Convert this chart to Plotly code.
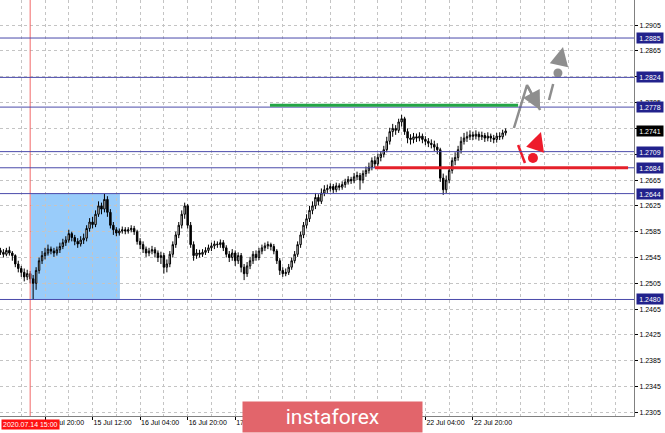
import plotly.graph_objects as go

# ---------------- data (H1 candles, index 0 = 14 Jul 05:00) ----------------
first_open = 1.2556
closes = [
    1.2553, 1.2550, 1.2556, 1.2552, 1.2548, 1.2535, 1.2528, 1.2522, 1.2515, 1.2520,
    1.2512, 1.2505, 1.2525, 1.2540, 1.2548, 1.2552, 1.2558, 1.2555, 1.2552, 1.2557,
    1.2562, 1.2568, 1.2572, 1.2582, 1.2576, 1.2570, 1.2566, 1.2572, 1.2575, 1.2590,
    1.2600, 1.2596, 1.2612, 1.2625, 1.2620, 1.2635, 1.2615, 1.2595, 1.2588, 1.2583,
    1.2586, 1.2588, 1.2586, 1.2588, 1.2590, 1.2585, 1.2570, 1.2565, 1.2558, 1.2552,
    1.2555, 1.2557, 1.2552, 1.2545, 1.2548, 1.2530, 1.2535, 1.2550, 1.2565, 1.2580,
    1.2595, 1.2612, 1.2625, 1.2595, 1.2565, 1.2548, 1.2552, 1.2550, 1.2553, 1.2556,
    1.2560, 1.2563, 1.2566, 1.2565, 1.2568, 1.2560, 1.2550, 1.2545, 1.2552, 1.2540,
    1.2548, 1.2530, 1.2520, 1.2532, 1.2540, 1.2550, 1.2545, 1.2555, 1.2560, 1.2563,
    1.2565, 1.2562, 1.2555, 1.2540, 1.2525, 1.2520, 1.2522, 1.2530, 1.2540, 1.2550,
    1.2565, 1.2580, 1.2595, 1.2605, 1.2618, 1.2625, 1.2638, 1.2632, 1.2645, 1.2650,
    1.2652, 1.2655, 1.2650, 1.2656, 1.2654, 1.2658, 1.2662, 1.2666, 1.2664, 1.2670,
    1.2672, 1.2665, 1.2675, 1.2680, 1.2685, 1.2695, 1.2690, 1.2700, 1.2705, 1.2712,
    1.2725, 1.2740, 1.2745, 1.2742, 1.2755, 1.2760, 1.2740, 1.2730, 1.2728, 1.2732,
    1.2730, 1.2733, 1.2728, 1.2725, 1.2722, 1.2720, 1.2716, 1.2712, 1.2668, 1.2650,
    1.2665, 1.2680, 1.2695, 1.2700, 1.2712, 1.2725, 1.2730, 1.2732, 1.2735, 1.2733,
    1.2736, 1.2732, 1.2734, 1.2730, 1.2733, 1.2730, 1.2728, 1.2733, 1.2732, 1.2738, 1.2741,
]
highs = [
    1.2560, 1.2558, 1.2560, 1.2562, 1.2555, 1.2550, 1.2540, 1.2532, 1.2528, 1.2526,
    1.2524, 1.2518, 1.2530, 1.2545, 1.2555, 1.2560, 1.2565, 1.2562, 1.2560, 1.2562,
    1.2568, 1.2574, 1.2578, 1.2588, 1.2585, 1.2580, 1.2575, 1.2578, 1.2582, 1.2595,
    1.2606, 1.2608, 1.2618, 1.2632, 1.2630, 1.2644, 1.2640, 1.2620, 1.2600, 1.2592,
    1.2590, 1.2593, 1.2592, 1.2592, 1.2595, 1.2594, 1.2588, 1.2575, 1.2570, 1.2562,
    1.2560, 1.2563, 1.2561, 1.2556, 1.2554, 1.2552, 1.2542, 1.2555, 1.2570, 1.2585,
    1.2600, 1.2618, 1.2630, 1.2628, 1.2600, 1.2570, 1.2558, 1.2557, 1.2558, 1.2561,
    1.2565, 1.2568, 1.2571, 1.2570, 1.2573, 1.2572, 1.2564, 1.2555, 1.2558, 1.2556,
    1.2553, 1.2552, 1.2535, 1.2538, 1.2546, 1.2555, 1.2556, 1.2560, 1.2565, 1.2568,
    1.2570, 1.2568, 1.2566, 1.2558, 1.2544, 1.2530, 1.2528, 1.2535, 1.2545, 1.2555,
    1.2570, 1.2585, 1.2600, 1.2612, 1.2625, 1.2632, 1.2645, 1.2643, 1.2652, 1.2657,
    1.2658, 1.2660, 1.2659, 1.2661, 1.2660, 1.2663, 1.2667, 1.2671, 1.2670, 1.2676,
    1.2678, 1.2676, 1.2680, 1.2686, 1.2692, 1.2700, 1.2702, 1.2706, 1.2710, 1.2718,
    1.2732, 1.2746, 1.2752, 1.2750, 1.2760, 1.2766, 1.2763, 1.2745, 1.2736, 1.2738,
    1.2737, 1.2739, 1.2737, 1.2733, 1.2730, 1.2728, 1.2726, 1.2722, 1.2715, 1.2675,
    1.2672, 1.2686, 1.2700, 1.2708, 1.2718, 1.2732, 1.2738, 1.2740, 1.2742, 1.2740,
    1.2742, 1.2740, 1.2740, 1.2738, 1.2739, 1.2737, 1.2735, 1.2738, 1.2739, 1.2743, 1.2745,
]
lows = [
    1.2549, 1.2545, 1.2547, 1.2548, 1.2540, 1.2530, 1.2522, 1.2515, 1.2508, 1.2510,
    1.2505, 1.2480, 1.2495, 1.2520, 1.2535, 1.2542, 1.2548, 1.2550, 1.2546, 1.2548,
    1.2552, 1.2558, 1.2563, 1.2568, 1.2570, 1.2564, 1.2560, 1.2562, 1.2566, 1.2570,
    1.2585, 1.2590, 1.2592, 1.2608, 1.2612, 1.2615, 1.2608, 1.2590, 1.2580, 1.2578,
    1.2579, 1.2582, 1.2581, 1.2582, 1.2584, 1.2580, 1.2565, 1.2558, 1.2552, 1.2546,
    1.2547, 1.2550, 1.2545, 1.2538, 1.2535, 1.2520, 1.2522, 1.2530, 1.2545, 1.2560,
    1.2575, 1.2590, 1.2605, 1.2590, 1.2560, 1.2540, 1.2543, 1.2545, 1.2546, 1.2549,
    1.2552, 1.2555, 1.2558, 1.2560, 1.2560, 1.2555, 1.2545, 1.2538, 1.2540, 1.2532,
    1.2535, 1.2522, 1.2510, 1.2515, 1.2527, 1.2535, 1.2540, 1.2541, 1.2550, 1.2555,
    1.2558, 1.2556, 1.2550, 1.2535, 1.2518, 1.2515, 1.2516, 1.2518, 1.2526, 1.2536,
    1.2546, 1.2560, 1.2575, 1.2590, 1.2600, 1.2612, 1.2620, 1.2626, 1.2628, 1.2640,
    1.2645, 1.2647, 1.2645, 1.2646, 1.2649, 1.2650, 1.2653, 1.2658, 1.2659, 1.2660,
    1.2665, 1.2650, 1.2660, 1.2670, 1.2675, 1.2680, 1.2684, 1.2686, 1.2694, 1.2700,
    1.2708, 1.2720, 1.2732, 1.2735, 1.2738, 1.2748, 1.2735, 1.2722, 1.2720, 1.2722,
    1.2724, 1.2725, 1.2722, 1.2719, 1.2716, 1.2714, 1.2710, 1.2705, 1.2662, 1.2642,
    1.2645, 1.2660, 1.2675, 1.2688, 1.2695, 1.2706, 1.2720, 1.2724, 1.2727, 1.2727,
    1.2728, 1.2726, 1.2727, 1.2724, 1.2725, 1.2724, 1.2722, 1.2723, 1.2727, 1.2728, 1.2734,
]
opens = [first_open] + closes[:-1]
bar_index = list(range(len(closes)))

# time axis labels (every 16 bars)
tick_index = [15, 31, 47, 63, 79, 95, 111, 127, 143, 159]
tick_labels = ["14 Jul 20:00", "15 Jul 12:00", "16 Jul 04:00", "16 Jul 20:00",
               "17 Jul 12:00", "20 Jul 04:00", "20 Jul 20:00", "21 Jul 12:00",
               "22 Jul 04:00", "22 Jul 20:00"]
grid_index = list(range(7, 214, 8))
x_range = [-0.15, 213.2]

# price axis
y_range = [1.22995, 1.29439]
y_tick0, y_dtick = 1.2305, 0.004

# horizontal levels
blue_levels = [1.2885, 1.2824, 1.2778, 1.2709, 1.2684, 1.2644, 1.2480]
current_price = 1.2741
red_level, red_from, red_to = 1.2684, 126.0, 211.2
green_level, green_from, green_to = 1.2781, 90.7, 174.2

# marked zone and marker line
zone_x = [10.3, 40.2]
zone_y = [1.2480, 1.2644]
marker_bar = 10
marker_label = "2020.07.14 15:00"

# forecast drawings
grey_path_x = [172.8, 177.2, 181.6]
grey_path_y = [1.27456, 1.28122, 1.27735]
grey_dash_x = [184.6, 186.0]
grey_dash_y = [1.27890, 1.28138]
grey_dot = (187.6, 1.28308)
grey_up_x = [187.9, 189.3]
grey_up_y = [1.28417, 1.28711]
red_stroke_x = [174.2, 176.5]
red_stroke_y = [1.27193, 1.26914]
red_dot = (179.2, 1.26992)
red_up_x = [179.9, 181.9]
red_up_y = [1.27116, 1.27394]

GRID = "#C4C4C4"
BLUE = "#4A4AAA"
NAVY = "#22228C"
GREY = "#8E8E8E"
RED = "#EE1B2B"
FONT = "Liberation Sans"

fig = go.Figure()

fig.add_trace(go.Candlestick(
    x=bar_index, open=opens, high=highs, low=lows, close=closes,
    increasing=dict(line=dict(color="#000000", width=1), fillcolor="#FFFFFF"),
    decreasing=dict(line=dict(color="#000000", width=1), fillcolor="#000000"),
    whiskerwidth=0, hoverinfo="skip", showlegend=False,
))

# forecast lines
fig.add_trace(go.Scatter(x=grey_path_x, y=grey_path_y, mode="lines",
                         line=dict(color=GREY, width=2.5), hoverinfo="skip"))
fig.add_trace(go.Scatter(x=grey_dash_x, y=grey_dash_y, mode="lines",
                         line=dict(color=GREY, width=2.5), hoverinfo="skip"))
fig.add_trace(go.Scatter(x=[grey_dot[0]], y=[grey_dot[1]], mode="markers",
                         marker=dict(color=GREY, size=9), hoverinfo="skip"))
fig.add_trace(go.Scatter(x=red_stroke_x, y=red_stroke_y, mode="lines",
                         line=dict(color=RED, width=2.5), hoverinfo="skip"))
fig.add_trace(go.Scatter(x=[red_dot[0]], y=[red_dot[1]], mode="markers",
                         marker=dict(color=RED, size=10), hoverinfo="skip"))

shapes = []
shapes.append(dict(type="rect", xref="x", yref="y", x0=zone_x[0], x1=zone_x[1],
                   y0=zone_y[0], y1=zone_y[1], fillcolor="#99CCFA",
                   line=dict(width=0), layer="below"))
shapes.append(dict(type="line", xref="x", yref="paper", x0=marker_bar, x1=marker_bar,
                   y0=0, y1=1, line=dict(color="#F26868", width=1)))
for lv in blue_levels:
    shapes.append(dict(type="line", xref="paper", yref="y", x0=0, x1=1, y0=lv, y1=lv,
                       line=dict(color=BLUE, width=1)))
shapes.append(dict(type="line", xref="x", yref="y", x0=red_from, x1=red_to,
                   y0=red_level, y1=red_level, line=dict(color="#E5202A", width=3)))
shapes.append(dict(type="line", xref="x", yref="y", x0=green_from, x1=green_to,
                   y0=green_level, y1=green_level, line=dict(color="#23A545", width=3)))

annotations = []
# arrows
annotations.append(dict(x=grey_path_x[2], y=grey_path_y[2], ax=grey_path_x[1], ay=grey_path_y[1],
                        xref="x", yref="y", axref="x", ayref="y", text="", showarrow=True,
                        arrowhead=2, arrowsize=1.5, arrowwidth=2.5, arrowcolor=GREY))
annotations.append(dict(x=grey_up_x[1], y=grey_up_y[1], ax=grey_up_x[0], ay=grey_up_y[0],
                        xref="x", yref="y", axref="x", ayref="y", text="", showarrow=True,
                        arrowhead=2, arrowsize=1.5, arrowwidth=2.5, arrowcolor=GREY))
annotations.append(dict(x=red_up_x[1], y=red_up_y[1], ax=red_up_x[0], ay=red_up_y[0],
                        xref="x", yref="y", axref="x", ayref="y", text="", showarrow=True,
                        arrowhead=2, arrowsize=1.5, arrowwidth=2.5, arrowcolor=RED))
# price labels on the right scale
for lv in blue_levels:
    annotations.append(dict(x=1, xref="paper", xshift=2, xanchor="left", y=lv, yref="y",
                            text=f"{lv:.4f}", showarrow=False, bgcolor=NAVY,
                            font=dict(family=FONT, size=7, color="white"),
                            width=24, height=8, borderpad=1))
annotations.append(dict(x=1, xref="paper", xshift=2, xanchor="left", y=current_price, yref="y",
                        text=f"{current_price:.4f}", showarrow=False, bgcolor="#000000",
                        font=dict(family=FONT, size=7, color="white"),
                        width=24, height=8, borderpad=1))
# marker time label
annotations.append(dict(x=marker_bar, xref="x", y=0, yref="paper", yanchor="top", yshift=-3,
                        text=marker_label, showarrow=False, bgcolor="#FF1111",
                        font=dict(family=FONT, size=7, color="white"), borderpad=1))
# logo
annotations.append(dict(x=332.5 / 634, xref="paper", y=-0.0024, yref="paper",
                        xanchor="center", yanchor="middle", text="instaforex",
                        showarrow=False, bgcolor="#E2656B", width=179, height=30,
                        borderpad=0, font=dict(family="Roboto", size=21, color="white")))

fig.update_layout(
    width=665, height=433,
    margin=dict(l=0, r=31, t=0, b=17),
    paper_bgcolor="white", plot_bgcolor="white",
    showlegend=False,
    shapes=shapes, annotations=annotations,
    xaxis=dict(
        range=x_range, rangeslider=dict(visible=False),
        tickmode="array", tickvals=tick_index, ticktext=tick_labels,
        ticks="outside", ticklen=3, tickcolor="#000000",
        ticklabelposition="outside right",
        tickfont=dict(family=FONT, size=7, color="#000000"),
        showgrid=True, gridcolor=GRID, griddash="dot", gridwidth=1,
        minor=dict(tickmode="array", tickvals=grid_index, showgrid=True,
                   gridcolor=GRID, griddash="dot", ticks=""),
        showline=True, linecolor="#808080", linewidth=1, zeroline=False,
        automargin=False,
    ),
    yaxis=dict(
        side="right", range=y_range, tick0=y_tick0, dtick=y_dtick, tickformat=".4f",
        ticks="outside", ticklen=3, tickcolor="#000000",
        tickfont=dict(family=FONT, size=7, color="#000000"),
        showgrid=True, gridcolor=GRID, griddash="dot", gridwidth=1,
        showline=True, linecolor="#808080", linewidth=1, zeroline=False,
        automargin=False,
    ),
)

fig.write_html("out.html", config={"displayModeBar": False},
               post_script="document.body.style.margin='0px';document.body.style.overflow='hidden';")
